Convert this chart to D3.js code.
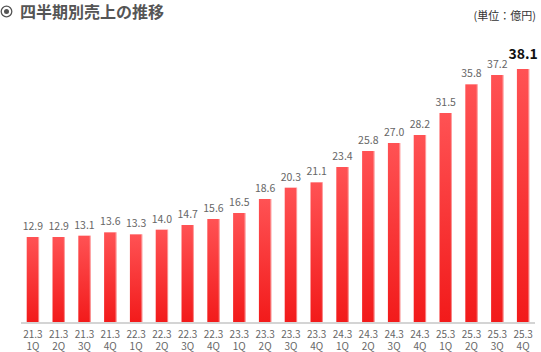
<!DOCTYPE html>
<html><head><meta charset="utf-8">
<script src="https://cdn.jsdelivr.net/npm/d3@7"></script>
<style>
body{margin:0;background:#fff;}
#wrap{position:relative;width:541px;height:352px;}
svg{display:block;position:absolute;left:0;top:0;}
.xl{position:absolute;width:30px;text-align:center;font-family:'Noto Sans CJK JP','Noto Sans',sans-serif;font-size:10px;line-height:12px;color:#666;white-space:pre;}
</style>
</head><body>
<div id="wrap"><svg id="c" width="541" height="352"></svg></div>
<script>
const years = ["21.3","21.3","21.3","21.3","22.3","22.3","22.3","22.3","23.3","23.3","23.3","23.3","24.3","24.3","24.3","24.3","25.3","25.3","25.3","25.3"];
const quarters = ["1Q","2Q","3Q","4Q","1Q","2Q","3Q","4Q","1Q","2Q","3Q","4Q","1Q","2Q","3Q","4Q","1Q","2Q","3Q","4Q"];
const sales = [12.9,12.9,13.1,13.6,13.3,14.0,14.7,15.6,16.5,18.6,20.3,21.1,23.4,25.8,27.0,28.2,31.5,35.8,37.2,38.1];
const titleText = "四半期別売上の推移";
const unitText = "(単位：億円)";

const svg = d3.select("#c");
const font = "'Noto Sans CJK JP','Noto Sans',sans-serif";
const idx = d3.range(sales.length);
const x = d3.scaleBand().domain(idx).range([20, 536]).paddingInner(0.52).paddingOuter(0.26);
const y = d3.scaleLinear().domain([0, 38.1]).range([323, 69]);

const defs = svg.append("defs");
const g = defs.append("linearGradient").attr("id","bg").attr("x1",0).attr("y1",0).attr("x2",0).attr("y2",1);
g.append("stop").attr("offset","0%").attr("stop-color","#ff5254");
g.append("stop").attr("offset","100%").attr("stop-color","#f21a1a");

// title
const tg = svg.append("g");
tg.append("circle").attr("cx",6.5).attr("cy",11.5).attr("r",5.3).attr("fill","none").attr("stroke","#555").attr("stroke-width",1.3);
tg.append("circle").attr("cx",6.5).attr("cy",11.5).attr("r",2.5).attr("fill","#555");
tg.append("text").attr("x",20).attr("y",18).attr("font-family",font).attr("font-weight","bold")
  .attr("font-size",16).attr("fill","#555").text(titleText);
svg.append("text").attr("x",536).attr("y",20).attr("text-anchor","end").attr("font-family",font)
  .attr("font-size",11).attr("fill","#333").text(unitText);

// bars
const bars = svg.append("g");
bars.selectAll("rect.b").data(idx).join("rect").attr("class","b")
  .attr("x", i => x(i)).attr("y", i => y(sales[i]))
  .attr("width", x.bandwidth()).attr("height", i => y(0) - y(sales[i]))
  .attr("fill","url(#bg)");
bars.selectAll("rect.e").data(idx).join("rect").attr("class","e")
  .attr("x", i => x(i) + x.bandwidth() - 1).attr("y", i => y(sales[i]))
  .attr("width", 1).attr("height", i => y(0) - y(sales[i]))
  .attr("fill","#ffffff").attr("opacity",0.45);

// baseline
svg.append("line").attr("x1",21).attr("x2",535).attr("y1",323).attr("y2",323)
  .attr("stroke","#d4d4d4").attr("stroke-width",2);

// value labels
svg.append("g").selectAll("text").data(idx).join("text")
  .attr("x", i => x(i) + x.bandwidth()/2)
  .attr("y", i => y(sales[i]) - (i === sales.length-1 ? 10 : 7))
  .attr("text-anchor","middle").attr("font-family",font)
  .attr("font-size", i => i === sales.length-1 ? 14 : 10.5)
  .attr("font-weight", i => i === sales.length-1 ? "bold" : "normal")
  .attr("fill", i => i === sales.length-1 ? "#111" : "#666")
  .text(i => sales[i].toFixed(1));

// x labels (two-line, one element each)
d3.select("#wrap").selectAll("div.xl").data(idx).join("div").attr("class","xl")
  .style("left", i => (x(i) + x.bandwidth()/2 - 15) + "px")
  .style("top", "327.5px")
  .text(i => years[i] + "\n" + quarters[i]);
</script>
</body></html>
